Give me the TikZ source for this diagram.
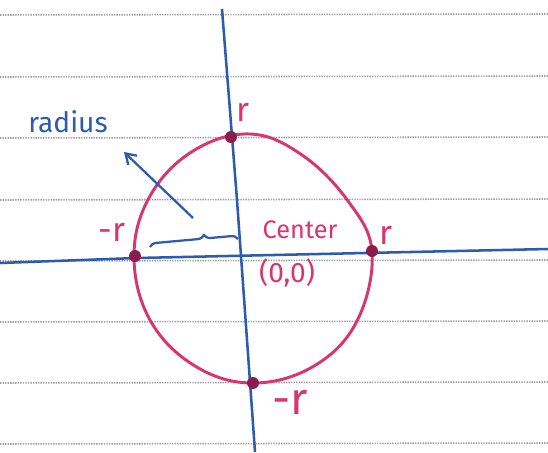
\documentclass[tikz,border=0pt]{standalone}
\usepackage{fontspec}
\setmainfont{Fira Sans}
\usetikzlibrary{arrows.meta,decorations.pathreplacing}

\definecolor{penpink}{HTML}{D9356E}
\definecolor{penblue}{HTML}{2C5BB0}
\definecolor{inkdot}{HTML}{8A1D4E}

\tikzset{
    ruling/.style={gray!75, line width=1.1pt, dash pattern=on 1pt off 0.8pt},
    axisline/.style={penblue, line width=1.8pt},
    curve/.style={penpink, line width=2.1pt},
    pt/.style={circle, fill=inkdot, inner sep=0pt, minimum size=8.5pt},
    penlabel/.style={text=penpink, inner sep=1pt},
    note/.style={text=penblue, inner sep=1pt},
    link/.style={-{Straight Barb[length=7pt,width=9pt]}, penblue, line width=1.6pt}
}

\begin{document}
\begin{tikzpicture}[x=0.25mm, y=-0.25mm]
    \useasboundingbox[fill=white] (0,0) rectangle (548,452);

    % ruled paper
    \foreach \yy in {15,77,138,200,261,322,383,444}
        \draw[ruling] (0,\yy) -- (548,\yy-1);

    % axes
    \draw[axisline] (222,9) -- (237,200) -- (250,382) -- (255,452);
    \draw[axisline] (0,263) -- (137,258) -- (548,249);

    % the circle
    \draw[curve] plot[smooth cycle, tension=0.65] coordinates {
        (372,252) (348,201) (302,155) (250,134) (193,151) (150,196)
        (134,256) (150,320) (195,366) (253,383) (314,366) (357,321)};

    \node[pt] (top) at (231,137) {};
    \node[pt] (left) at (135,256) {};
    \node[pt] (right) at (372,251) {};
    \node[pt] (bottom) at (253,383) {};

    \node[penlabel, font=\fontsize{24}{26}\selectfont] (top-r) at (243,112) {r};
    \node[penlabel, font=\fontsize{24}{26}\selectfont] (left-r) at (112,232) {-r};
    \node[penlabel, font=\fontsize{24}{26}\selectfont] (right-r) at (386,235) {r};
    \node[penlabel, font=\fontsize{32}{34}\selectfont] (bottom-r) at (290,402) {-r};
    \node[penlabel, font=\fontsize{18}{20}\selectfont] (center) at (300,230) {Center};
    \node[penlabel, font=\fontsize{20}{22}\selectfont] (origin) at (287,273) {(0,0)};

    % radius label, brace and arrow
    \node[note, font=\fontsize{20}{22}\selectfont] (radius) at (68,122) {radius};
    \coordinate (brace-l) at (150,247);
    \coordinate (brace-r) at (238,239);
    \coordinate (tail) at (193,218);
    \coordinate (head) at (124,152);
    \draw[axisline, line width=1.6pt,
        decorate, decoration={brace, amplitude=5pt, aspect=0.62}]
        (brace-l) -- (brace-r);
    \draw[link] (tail) -- (head);
\end{tikzpicture}
\end{document}
